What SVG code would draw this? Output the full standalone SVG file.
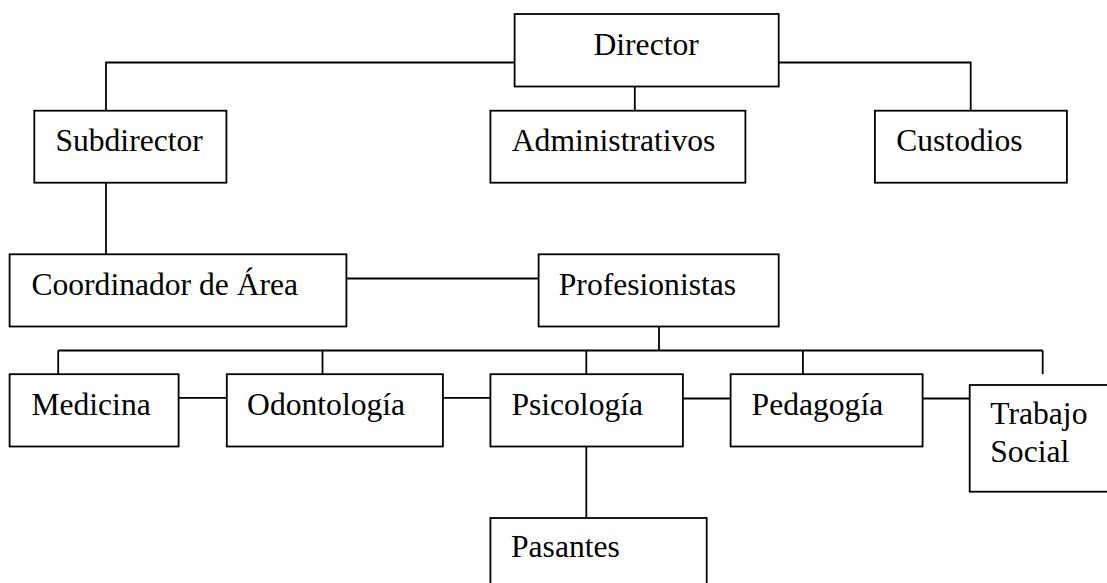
<svg xmlns="http://www.w3.org/2000/svg" width="1107" height="583" viewBox="0 0 1107 583">
<style>
.box{fill:#fff;stroke:#000;stroke-width:1.8}
.ln{fill:none;stroke:#000;stroke-width:1.8}
text{font-family:"Liberation Serif","Times New Roman",serif;font-size:31.6px;fill:#000}
</style>
<rect width="1107" height="583" fill="#fff"/>
<g id="connectors">
<polyline class="ln" points="514.6,62.5 106,62.5 106,110.7"/>
<polyline class="ln" points="778.7,62.5 970.7,62.5 970.7,110.7"/>
<line class="ln" x1="634.8" y1="86.5" x2="634.8" y2="110.7"/>
<line class="ln" x1="106" y1="182.7" x2="106" y2="254.3"/>
<line class="ln" x1="346.4" y1="278.5" x2="538.6" y2="278.5"/>
<line class="ln" x1="659" y1="326.5" x2="659" y2="350.5"/>
<line class="ln" x1="58.2" y1="350.5" x2="1042.7" y2="350.5"/>
<line class="ln" x1="58.2" y1="350.5" x2="58.2" y2="374.2"/>
<line class="ln" x1="322.5" y1="350.5" x2="322.5" y2="374.2"/>
<line class="ln" x1="586.3" y1="350.5" x2="586.3" y2="374.2"/>
<line class="ln" x1="802.9" y1="350.5" x2="802.9" y2="374.2"/>
<line class="ln" x1="1042.7" y1="350.5" x2="1042.7" y2="374.2"/>
<line class="ln" x1="178.6" y1="397.8" x2="226.8" y2="397.8"/>
<line class="ln" x1="442.9" y1="397.8" x2="490.4" y2="397.8"/>
<line class="ln" x1="682.9" y1="398.5" x2="730.6" y2="398.5"/>
<line class="ln" x1="922.6" y1="398.5" x2="969.7" y2="398.5"/>
<line class="ln" x1="586.3" y1="446.5" x2="586.3" y2="518"/>
</g>
<g id="director"><rect class="box" x="514.6" y="14" width="264.1" height="72.5"/><text x="593.5" y="55">Director</text></g>
<g id="subdirector"><rect class="box" x="34.3" y="110.7" width="192.1" height="72"/><text x="55.4" y="150.5">Subdirector</text></g>
<g id="administrativos"><rect class="box" x="490.4" y="110.7" width="255" height="72"/><text x="511.8" y="150.5">Administrativos</text></g>
<g id="custodios"><rect class="box" x="874.9" y="110.7" width="192" height="72"/><text x="896.2" y="150.5">Custodios</text></g>
<g id="coordinador"><rect class="box" x="9.6" y="254.3" width="336.8" height="72.2"/><text x="31.4" y="294.8">Coordinador de Área</text></g>
<g id="profesionistas"><rect class="box" x="538.6" y="254.3" width="240.1" height="72.2"/><text x="558.8" y="294.8">Profesionistas</text></g>
<g id="medicina"><rect class="box" x="9.6" y="374.2" width="169" height="72.3"/><text x="31.4" y="415">Medicina</text></g>
<g id="odontologia"><rect class="box" x="226.8" y="374.2" width="216.1" height="72.3"/><text x="247.1" y="415">Odontología</text></g>
<g id="psicologia"><rect class="box" x="490.4" y="374.2" width="192.5" height="72.3"/><text x="511.4" y="415">Psicología</text></g>
<g id="pedagogia"><rect class="box" x="730.6" y="374.2" width="192" height="72.3"/><text x="751.6" y="414.5">Pedagogía</text></g>
<g id="trabajo-social"><rect class="box" x="969.7" y="385" width="160" height="106.7"/><text x="990.3" y="424.3">Trabajo</text><text x="990.3" y="461.7">Social</text></g>
<g id="pasantes"><rect class="box" x="490.4" y="518" width="216.3" height="90"/><text x="511" y="557">Pasantes</text></g>
</svg>
